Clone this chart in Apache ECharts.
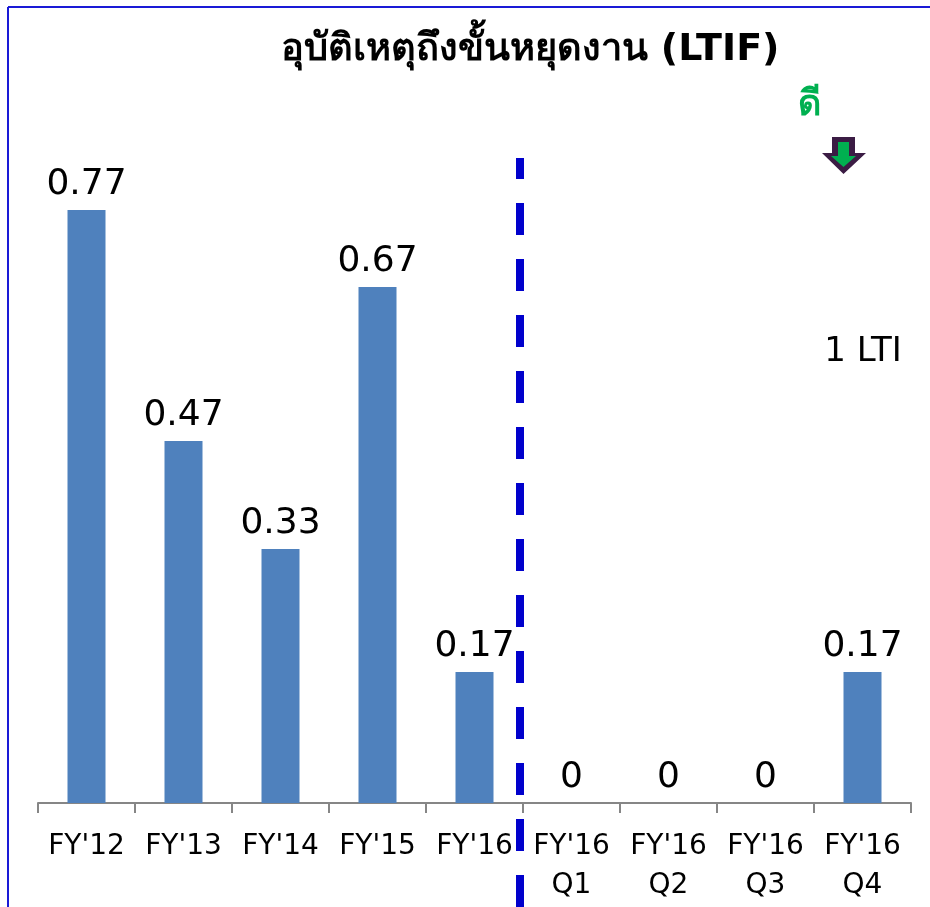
<!DOCTYPE html>
<html>
<head>
<meta charset="utf-8">
<script src="https://cdn.jsdelivr.net/npm/echarts@6/dist/echarts.min.js"></script>
<style>
  html, body { margin: 0; padding: 0; background: #fff; }
  #chart { width: 930px; height: 907px; }
</style>
</head>
<body>
<div id="chart"></div>
<script>
// data
const categories = ["FY'12", "FY'13", "FY'14", "FY'15", "FY'16", "FY'16\nQ1", "FY'16\nQ2", "FY'16\nQ3", "FY'16\nQ4"];
const ltifValues = [0.77, 0.47, 0.33, 0.67, 0.17, 0, 0, 0, 0.17];

const chart = echarts.init(document.getElementById("chart"));

chart.setOption({
  animation: false,
  backgroundColor: "#fff",
  title: {
    text: "อุบัติเหตุถึงขั้นหยุดงาน (LTIF)",
    left: 525,
    top: 26,
    textAlign: "center",
    textStyle: { fontFamily: "DejaVu Sans, Noto Sans, sans-serif", fontSize: 38, fontWeight: "bold", color: "#000" },
  },
  grid: { left: 38, right: 19, top: 33, bottom: 104 },
  xAxis: {
    type: "category",
    data: categories,
    axisLine: { lineStyle: { color: "#868686", width: 2 } },
    axisTick: { show: true, length: 10, lineStyle: { color: "#868686", width: 2 } },
    axisLabel: {
      color: "#000",
      fontFamily: "DejaVu Sans, sans-serif",
      fontSize: 28,
      lineHeight: 39,
      margin: 24,
      interval: 0,
    },
  },
  yAxis: { type: "value", min: 0, max: 1, show: false },
  series: [
    {
      type: "bar",
      data: ltifValues,
      barWidth: 38,
      itemStyle: { color: "#4f81bd" },
      label: {
        show: true,
        position: "top",
        distance: 7,
        color: "#000",
        fontFamily: "DejaVu Sans, sans-serif",
        fontSize: 36,
      },
    },
  ],
  graphic: [
    // frame lines
    { type: "line", shape: { x1: 8, y1: 7, x2: 930, y2: 7 }, style: { stroke: "#1a1ad6", lineWidth: 2 } },
    { type: "line", shape: { x1: 8, y1: 7, x2: 8, y2: 907 }, style: { stroke: "#1a1ad6", lineWidth: 2 } },
    // separator
    {
      type: "line",
      shape: { x1: 520, y1: 158, x2: 520, y2: 907 },
      style: { stroke: "#0000cc", lineWidth: 8, lineDash: [32, 24], lineDashOffset: 11 },
    },
    // "good" marker
    {
      type: "text",
      x: 809, y: 105,
      style: { text: "ดี", fill: "#00b050", font: "bold 36px 'Noto Sans', 'DejaVu Sans', sans-serif", align: "center", verticalAlign: "middle" },
    },
    {
      type: "polygon",
      shape: { points: [[832, 137], [855, 137], [855, 153], [866, 153], [843.5, 174], [822, 153], [832, 153]] },
      style: { fill: "#3b1c44" },
    },
    {
      type: "polygon",
      shape: { points: [[838, 142], [849, 142], [849, 156], [856, 156], [843.5, 167], [831, 156], [838, 156]] },
      style: { fill: "#00b050" },
    },
    {
      type: "text",
      x: 863, y: 352,
      style: { text: "1 LTI", fill: "#000", font: "34px 'DejaVu Sans', sans-serif", align: "center", verticalAlign: "middle" },
    },
  ],
});
</script>
</body>
</html>
